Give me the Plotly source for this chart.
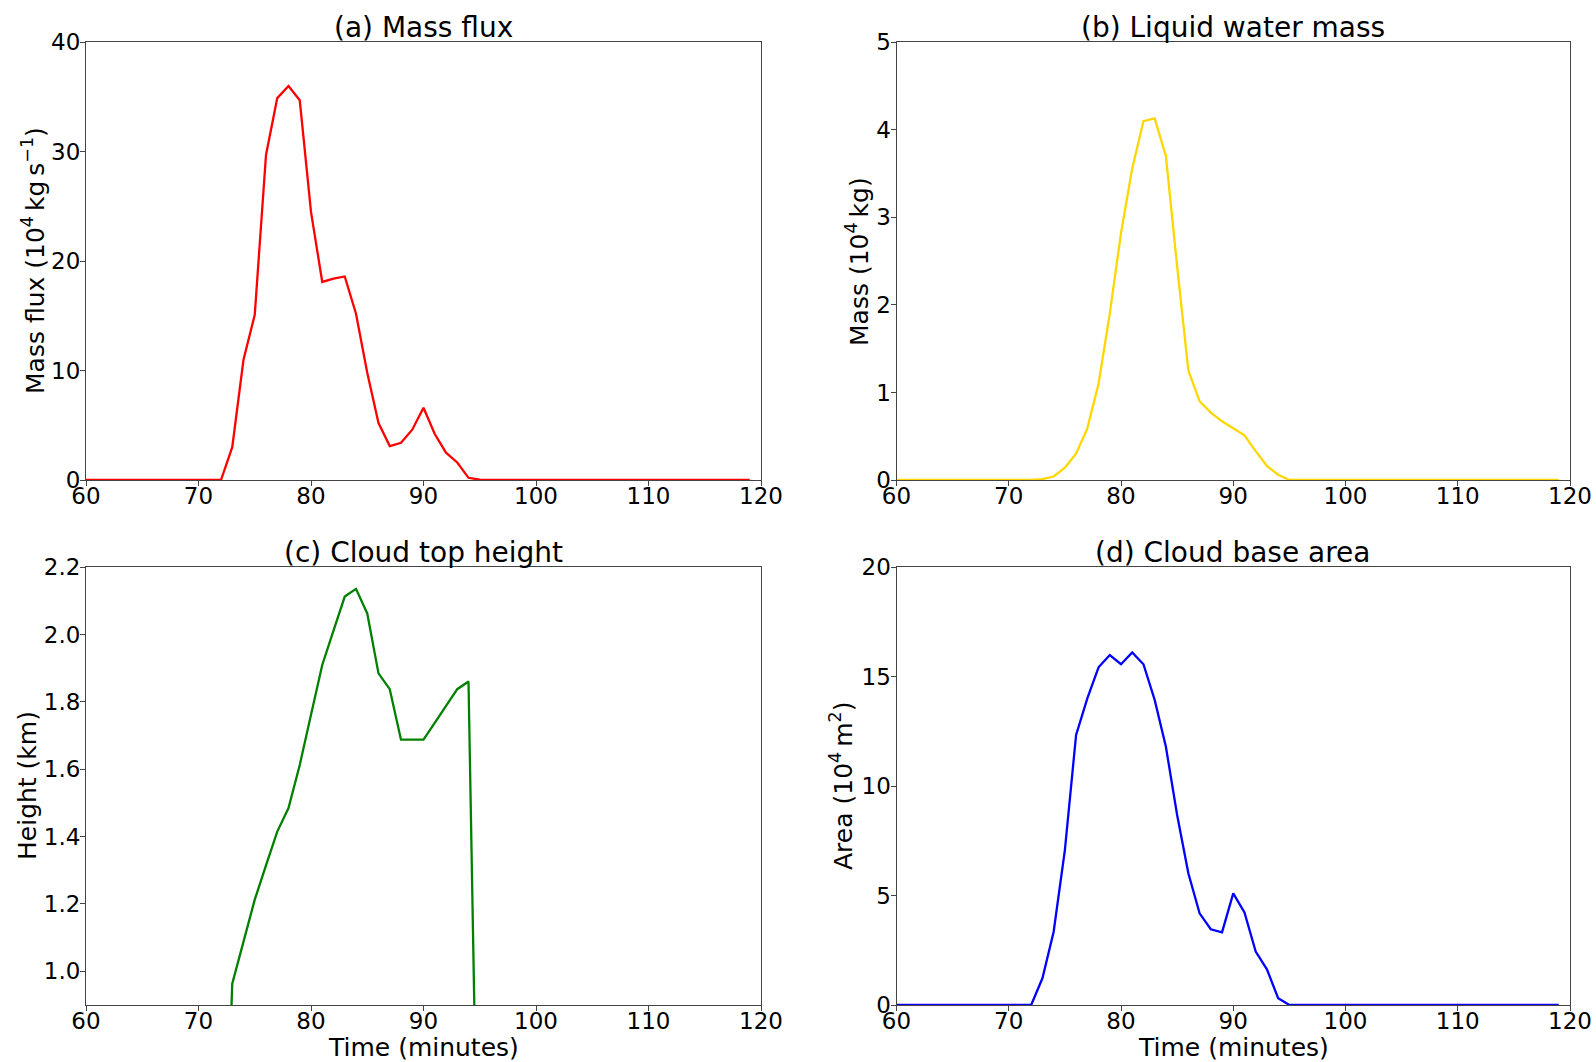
import plotly.graph_objects as go

# ---------------- data ----------------
time_min = [60, 61, 62, 63, 64, 65, 66, 67, 68, 69, 70, 71, 72, 73, 74, 75, 76, 77, 78, 79,
            80, 81, 82, 83, 84, 85, 86, 87, 88, 89, 90, 91, 92, 93, 94, 95, 96, 97, 98, 99,
            100, 101, 102, 103, 104, 105, 106, 107, 108, 109, 110, 111, 112, 113, 114, 115, 116, 117, 118, 119]

mass_flux = [0, 0, 0, 0, 0, 0, 0, 0, 0, 0, 0, 0, 0,
             3.0, 11.0, 15.1, 29.7, 34.9, 36.0, 34.7, 24.5, 18.1, 18.4, 18.6, 15.2, 9.8, 5.2,
             3.1, 3.4, 4.6, 6.6, 4.2, 2.5, 1.6, 0.2, 0.03,
             0, 0, 0, 0, 0, 0, 0, 0, 0, 0, 0, 0, 0, 0, 0, 0, 0, 0, 0, 0, 0, 0, 0, 0]

liquid_water = [0, 0, 0, 0, 0, 0, 0, 0, 0, 0, 0, 0, 0,
                0.01, 0.04, 0.14, 0.30, 0.59, 1.10, 1.90, 2.82, 3.56, 4.10, 4.13, 3.70, 2.44, 1.25,
                0.90, 0.77, 0.67, 0.59, 0.51, 0.33, 0.16, 0.06, 0.0,
                0, 0, 0, 0, 0, 0, 0, 0, 0, 0, 0, 0, 0, 0, 0, 0, 0, 0, 0, 0, 0, 0, 0, 0]

cloud_top = [0, 0, 0, 0, 0, 0, 0, 0, 0, 0, 0, 0, 0,
             0.963, 1.088, 1.213, 1.315, 1.415, 1.485, 1.613, 1.762, 1.91, 2.012, 2.113, 2.136,
             2.063, 1.885, 1.838, 1.688, 1.688, 1.688, 1.738, 1.788, 1.838, 1.861,
             0, 0, 0, 0, 0, 0, 0, 0, 0, 0, 0, 0, 0, 0, 0, 0, 0, 0, 0, 0, 0, 0, 0, 0, 0]

cloud_base = [0, 0, 0, 0, 0, 0, 0, 0, 0, 0, 0, 0, 0,
              1.22, 3.35, 7.08, 12.34, 14.01, 15.43, 15.99, 15.57, 16.11, 15.57, 13.94, 11.8, 8.68,
              6.02, 4.19, 3.46, 3.32, 5.10, 4.23, 2.44, 1.63, 0.31, 0.0,
              0, 0, 0, 0, 0, 0, 0, 0, 0, 0, 0, 0, 0, 0, 0, 0, 0, 0, 0, 0, 0, 0, 0, 0]

x_ticks = [60, 70, 80, 90, 100, 110, 120]
y_ticks_a = [0, 10, 20, 30, 40]
y_ticks_b = [0, 1, 2, 3, 4, 5]
y_ticks_c = [1.0, 1.2, 1.4, 1.6, 1.8, 2.0, 2.2]
y_ticks_d = [0, 5, 10, 15, 20]

titles = ["(a) Mass flux", "(b) Liquid water mass", "(c) Cloud top height", "(d) Cloud base area"]
ylabels = ["Mass flux (10<sup>4</sup>\u2009kg\u2009s<sup>\u22121</sup>)",
           "Mass (10<sup>4</sup>\u2009kg)",
           "Height (km)",
           "Area (10<sup>4</sup>\u2009m<sup>2</sup>)"]
xlabel = "Time (minutes)"

# ---------------- layout geometry ----------------
W, H = 1596, 1062
FONT = "DejaVu Sans"
xdom_left = [86 / W, 761 / W]
xdom_right = [896.5 / W, 1570 / W]
ydom_top = [1 - 480 / H, 1 - 42.3 / H]
ydom_bot = [1 - 1005 / H, 1 - 567.3 / H]

fig = go.Figure()
series = [(mass_flux, "#ff0000"), (liquid_water, "#ffd700"), (cloud_top, "#008000"), (cloud_base, "#0000ff")]
for i, (vals, col) in enumerate(series):
    xa = "x" if i == 0 else f"x{i+1}"
    ya = "y" if i == 0 else f"y{i+1}"
    fig.add_trace(go.Scatter(x=time_min, y=vals, mode="lines", xaxis=xa, yaxis=ya,
                             line=dict(color=col, width=2.3), showlegend=False, hoverinfo="x+y"))

axis_common = dict(showline=True, linecolor="#444", linewidth=1, mirror=True,
                   ticks="outside", ticklen=5, tickwidth=1, tickcolor="#444",
                   showgrid=False, zeroline=False, automargin=False,
                   tickfont=dict(family=FONT, size=23, color="black"))

doms = [(xdom_left, ydom_top), (xdom_right, ydom_top), (xdom_left, ydom_bot), (xdom_right, ydom_bot)]
yranges = [[0, 40], [0, 5], [0.9, 2.2], [0, 20]]
yticks = [y_ticks_a, y_ticks_b, y_ticks_c, y_ticks_d]
yfmt = ["d", "d", ".1f", "d"]
layout = {}
for i in range(4):
    xk = "xaxis" if i == 0 else f"xaxis{i+1}"
    yk = "yaxis" if i == 0 else f"yaxis{i+1}"
    xa_id = "x" if i == 0 else f"x{i+1}"
    ya_id = "y" if i == 0 else f"y{i+1}"
    layout[xk] = dict(domain=doms[i][0], anchor=ya_id, range=[60, 120],
                      tickvals=x_ticks, ticktext=[str(v) for v in x_ticks],
                      ticklabelstandoff=-10, **axis_common)
    layout[yk] = dict(domain=doms[i][1], anchor=xa_id, range=yranges[i],
                      tickvals=yticks[i], tickformat=yfmt[i],
                      ticklabelstandoff=-5, **axis_common)

annotations = []
title_y = [1 - 27 / H, 1 - 27 / H, 1 - 552 / H, 1 - 552 / H]
for i in range(4):
    xd = doms[i][0]
    annotations.append(dict(text=titles[i], xref="paper", yref="paper",
                            x=(xd[0] + xd[1]) / 2, y=title_y[i], xanchor="center", yanchor="middle",
                            showarrow=False, font=dict(family=FONT, size=28, color="black")))

ylab_x = [33 / W, 857 / W, 27 / W, 841 / W]
ylab_y = [1 - 261 / H, 1 - 261 / H, 1 - 786 / H, 1 - 786 / H]
for i in range(4):
    annotations.append(dict(text=ylabels[i], xref="paper", yref="paper",
                            x=ylab_x[i], y=ylab_y[i], xanchor="center", yanchor="middle",
                            textangle=-90, showarrow=False,
                            font=dict(family=FONT, size=25, color="black")))

for xd in (xdom_left, xdom_right):
    annotations.append(dict(text=xlabel, xref="paper", yref="paper",
                            x=(xd[0] + xd[1]) / 2, y=1 - 1047 / H, xanchor="center", yanchor="middle",
                            showarrow=False, font=dict(family=FONT, size=25, color="black")))

fig.update_layout(width=W, height=H, autosize=False, template="none",
                  margin=dict(l=0, r=0, t=0, b=0, autoexpand=False),
                  paper_bgcolor="white", plot_bgcolor="white",
                  font=dict(family=FONT, color="black"),
                  annotations=annotations, **layout)

fig.write_html("out.html", config={"displayModeBar": False},
               post_script="document.body.style.margin='0';document.body.style.overflow='hidden';")
